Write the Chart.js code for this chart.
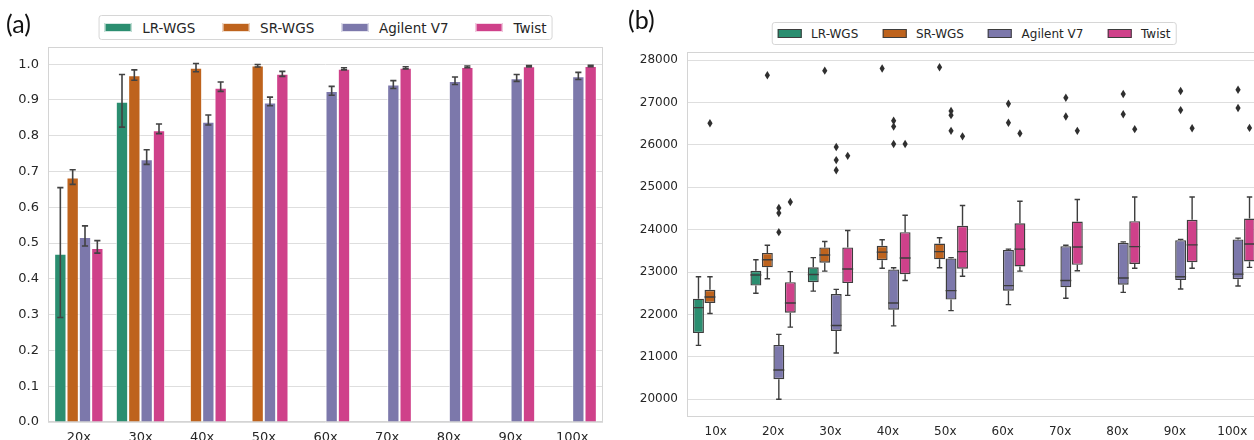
<!DOCTYPE html>
<html>
<head>
<meta charset="utf-8">
<script src="https://cdn.jsdelivr.net/npm/chart.js@4/dist/chart.umd.min.js"></script>
<style>
  html, body { margin: 0; padding: 0; width: 1254px; height: 440px; overflow: hidden; background: #fff; }
  .panel { position: absolute; top: 0; }
  .tag { position: absolute; font-family: Lato, "Open Sans", sans-serif; font-size: 25px; line-height: 1; color: #111; }
  .legend { position: absolute; transform: translateX(-50%); display: flex; align-items: center; box-sizing: border-box;
            border: 1px solid #d6d6d6; border-radius: 3px; background: #fff; font-family: "DejaVu Sans", sans-serif; color: #262626; white-space: nowrap; }
  .legend .item { display: flex; align-items: center; }
  .legend .sw { display: inline-block; box-sizing: border-box; }
</style>
</head>
<body>
<div class="panel" style="left:0;width:620px;height:450px;"><canvas id="chartA" width="620" height="450"></canvas></div>
<div class="panel" style="left:620px;width:660px;height:450px;"><canvas id="chartB" width="660" height="450"></canvas></div>
<div class="tag" style="left:6px;top:11px;">(a)</div>
<div class="tag" style="left:628px;top:7px;">(b)</div>
<div class="legend" id="legendA"></div>
<div class="legend" id="legendB"></div>
<script>
// ---- shared ----
const SERIES = ['LR-WGS', 'SR-WGS', 'Agilent V7', 'Twist'];
const COLORS = ['#2b8e70', '#be631d', '#7c78ab', '#cf418a'];

// ---- panel (a): mean fraction with confidence intervals ----
const CAT_A = ['20x', '30x', '40x', '50x', '60x', '70x', '80x', '90x', '100x'];
const Y_TICKS_A = [0.0, 0.1, 0.2, 0.3, 0.4, 0.5, 0.6, 0.7, 0.8, 0.9, 1.0];

const lrMean = [0.470, 0.895, null, null, null, null, null, null, null];
const lrLow  = [0.292, 0.824, null, null, null, null, null, null, null];
const lrHigh = [0.655, 0.971, null, null, null, null, null, null, null];

const srMean = [0.683, 0.969, 0.990, 0.996, null, null, null, null, null];
const srLow  = [0.664, 0.955, 0.979, 0.992, null, null, null, null, null];
const srHigh = [0.705, 0.984, 1.002, 0.999, null, null, null, null, null];

const agMean = [0.517, 0.734, 0.839, 0.893, 0.925, 0.943, 0.953, 0.961, 0.966];
const agLow  = [0.492, 0.720, 0.830, 0.884, 0.913, 0.932, 0.943, 0.952, 0.957];
const agHigh = [0.548, 0.761, 0.858, 0.908, 0.938, 0.954, 0.964, 0.971, 0.977];

const twMean = [0.486, 0.815, 0.934, 0.973, 0.987, 0.990, 0.992, 0.994, 0.995];
const twLow  = [0.472, 0.806, 0.924, 0.966, 0.984, 0.987, 0.990, 0.992, 0.993];
const twHigh = [0.507, 0.833, 0.950, 0.980, 0.990, 0.993, 0.995, 0.996, 0.997];

// ---- panel (b): distribution per depth ----
const CAT_B = ['10x', '20x', '30x', '40x', '50x', '60x', '70x', '80x', '90x', '100x'];
const Y_TICKS_B = [20000, 21000, 22000, 23000, 24000, 25000, 26000, 27000, 28000];

// [lower whisker, Q1, median, Q3, upper whisker]
const lrBox = [
  [21270, 21560, 22160, 22370, 22890], [22500, 22680, 22930, 23030, 23290], [22550, 22760, 22940, 23110, 23340],
  null, null, null, null, null, null, null];
const srBox = [
  [22020, 22270, 22410, 22580, 22890], [22840, 23110, 23290, 23450, 23630], [23020, 23220, 23400, 23580, 23720],
  [23090, 23280, 23470, 23620, 23760], [23100, 23300, 23480, 23670, 23810], null, null, null, null, null];
const agBox = [
  null,
  [20000, 20470, 20690, 21280, 21530], [21090, 21610, 21740, 22480, 22590], [21730, 22110, 22270, 23060, 23100],
  [22090, 22350, 22560, 23320, 23340], [22230, 22560, 22680, 23520, 23540], [22380, 22640, 22800, 23610, 23630],
  [22520, 22700, 22860, 23690, 23710], [22600, 22810, 22890, 23750, 23770], [22670, 22830, 22950, 23770, 23800]];
const twBox = [
  null,
  [21700, 22040, 22270, 22760, 23010], [22450, 22740, 23070, 23580, 23980], [22800, 22950, 23330, 23940, 24340],
  [22900, 23080, 23480, 24090, 24570], [23020, 23130, 23540, 24150, 24670], [23030, 23170, 23590, 24190, 24710],
  [23090, 23190, 23600, 24200, 24770], [23090, 23230, 23640, 24230, 24770], [23110, 23250, 23660, 24260, 24770]];

const lrOut = [[], [], [], [], [], [], [], [], [], []];
const srOut = [[26510], [27640], [27750], [27800], [27830], [], [], [], [], []];
const agOut = [[], [24510, 24390, 23940], [25950, 25640, 25400], [26570, 26430, 26020], [26800, 26700, 26330],
               [26970, 26520], [27110, 26670], [27200, 26720], [27270, 26820], [27300, 26870]];
const twOut = [[], [24650], [25740], [26020], [26200], [26270], [26330], [26370], [26390], [26400]];

// ---- legends ----
function buildLegend(id, center, top, height, fs, edge) {
  const el = document.getElementById(id);
  el.style.left = center + 'px';
  el.style.top = top + 'px';
  el.style.height = height + 'px';
  el.style.fontSize = fs + 'px';
  el.style.padding = '0 ' + (0.4 * fs) + 'px';
  SERIES.forEach((name, i) => {
    const it = document.createElement('div');
    it.className = 'item';
    if (i > 0) it.style.marginLeft = (2 * fs) + 'px';
    const sw = document.createElement('span');
    sw.className = 'sw';
    sw.style.width = (2 * fs) + 'px';
    sw.style.height = (0.7 * fs) + 'px';
    sw.style.background = COLORS[i];
    sw.style.border = edge;
    sw.style.marginRight = (0.8 * fs) + 'px';
    const tx = document.createElement('span');
    tx.textContent = name;
    it.appendChild(sw); it.appendChild(tx);
    el.appendChild(it);
  });
}
buildLegend('legendA', 325.5, 15, 25, 13.5, '1px solid rgba(255,255,255,0.8)');
buildLegend('legendB', 974, 22, 23, 12, '1px solid #3d3d3d');

// ---- common helpers ----
const GRID = '#dedede';
const TICK_COLOR = '#262626';
const frame = {
  id: 'frame',
  beforeDatasetsDraw(chart) {
    const a = chart.chartArea, c = chart.ctx;
    c.save();
    c.strokeStyle = '#d4d4d4';
    c.lineWidth = 1;
    c.strokeRect(Math.round(a.left) + 0.5, Math.round(a.top) + 0.5, Math.round(a.right - a.left) - 1, Math.round(a.bottom - a.top) - 1);
    c.restore();
  }
};

// ---- chart (a) ----
const aMeans = [lrMean, srMean, agMean, twMean];
const aLows = [lrLow, srLow, agLow, twLow];
const aHighs = [lrHigh, srHigh, agHigh, twHigh];

const errorBars = {
  id: 'errorBars',
  afterDatasetsDraw(chart) {
    const c = chart.ctx, ys = chart.scales.y;
    c.save();
    c.strokeStyle = '#424242';
    c.lineWidth = 1.6;
    aMeans.forEach((m, di) => {
      const meta = chart.getDatasetMeta(di);
      m.forEach((v, j) => {
        if (v === null) return;
        const el = meta.data[j];
        const x = el.x, hw = el.width * 0.25;
        const y1 = ys.getPixelForValue(aLows[di][j]);
        const y2 = ys.getPixelForValue(aHighs[di][j]);
        c.beginPath();
        c.moveTo(x, y1); c.lineTo(x, y2);
        c.moveTo(x - hw, y1); c.lineTo(x + hw, y1);
        c.moveTo(x - hw, y2); c.lineTo(x + hw, y2);
        c.stroke();
      });
    });
    c.restore();
  }
};

new Chart(document.getElementById('chartA'), {
  type: 'bar',
  data: {
    labels: CAT_A,
    datasets: SERIES.map((s, i) => ({
      label: s,
      data: aMeans[i],
      backgroundColor: COLORS[i],
      borderColor: 'rgba(255,255,255,0.75)',
      borderWidth: 1,
      categoryPercentage: 0.8,
      barPercentage: 1.0
    }))
  },
  options: {
    responsive: false,
    animation: false,
    events: [],
    layout: { padding: { left: 0, right: 17, top: 47, bottom: 0 } },
    plugins: { legend: { display: false }, tooltip: { enabled: false } },
    scales: {
      x: {
        grid: { display: false, drawTicks: false },
        border: { display: false },
        ticks: { color: TICK_COLOR, font: { family: 'DejaVu Sans', size: 13 }, padding: 8, maxRotation: 0 },
        afterFit(s) { s.height = 28; }
      },
      y: {
        min: 0, max: 1.048,
        grid: { color: GRID, drawTicks: false },
        border: { display: false },
        ticks: {
          color: TICK_COLOR, font: { family: 'DejaVu Sans', size: 13 }, padding: 9,
          callback: v => Number(v).toFixed(1)
        },
        afterBuildTicks(s) { s.ticks = Y_TICKS_A.map(v => ({ value: v })); },
        afterFit(s) { s.width = 48; }
      }
    }
  },
  plugins: [frame, errorBars]
});

// ---- chart (b) ----
const bBoxes = [lrBox, srBox, agBox, twBox];
const bOut = [lrOut, srOut, agOut, twOut];
const LINE = '#3d3d3d';

// whiskers, caps, medians and outlier diamonds, placed on each box's own bar element
const boxParts = {
  id: 'boxParts',
  afterDatasetsDraw(chart) {
    const c = chart.ctx, ys = chart.scales.y;
    c.save();
    c.strokeStyle = LINE;
    c.lineWidth = 1.4;
    bBoxes.forEach((series, di) => {
      const meta = chart.getDatasetMeta(di);
      series.forEach((b, j) => {
        if (!b) return;
        const el = meta.data[j];
        const x = el.x, hw = el.width / 2, cw = el.width * 0.25;
        const pLo = ys.getPixelForValue(b[0]);
        const pQ1 = ys.getPixelForValue(b[1]);
        const pMed = ys.getPixelForValue(b[2]);
        const pQ3 = ys.getPixelForValue(b[3]);
        const pHi = ys.getPixelForValue(b[4]);
        c.beginPath();
        c.moveTo(x, pQ1); c.lineTo(x, pLo);
        c.moveTo(x, pQ3); c.lineTo(x, pHi);
        c.moveTo(x - cw, pLo); c.lineTo(x + cw, pLo);
        c.moveTo(x - cw, pHi); c.lineTo(x + cw, pHi);
        c.moveTo(x - hw, pMed); c.lineTo(x + hw, pMed);
        c.stroke();
        // outliers
        c.fillStyle = '#2f2f2f';
        bOut[di][j].forEach(v => {
          const py = ys.getPixelForValue(v);
          c.beginPath();
          c.moveTo(x, py - 4.2); c.lineTo(x + 2.6, py); c.lineTo(x, py + 4.2); c.lineTo(x - 2.6, py);
          c.closePath();
          c.fill();
        });
      });
    });
    c.restore();
  }
};

new Chart(document.getElementById('chartB'), {
  type: 'bar',
  data: {
    labels: CAT_B,
    datasets: SERIES.map((s, i) => ({
      label: s,
      data: bBoxes[i].map(b => (b ? [b[1], b[3]] : null)),
      backgroundColor: COLORS[i],
      borderColor: LINE,
      borderWidth: 1.4,
      borderSkipped: false,
      categoryPercentage: 0.8,
      barPercentage: 0.95
    }))
  },
  options: {
    responsive: false,
    animation: false,
    events: [],
    layout: { padding: { left: 0, right: 19, top: 52, bottom: 0 } },
    plugins: { legend: { display: false }, tooltip: { enabled: false } },
    scales: {
      x: {
        grid: { display: false, drawTicks: false },
        border: { display: false },
        ticks: { color: TICK_COLOR, font: { family: 'DejaVu Sans', size: 12 }, padding: 8, maxRotation: 0 },
        afterFit(s) { s.height = 33; }
      },
      y: {
        min: 19580, max: 28190,
        grid: { color: GRID, drawTicks: false },
        border: { display: false },
        ticks: {
          color: TICK_COLOR, font: { family: 'DejaVu Sans', size: 12 }, padding: 9,
          callback: v => String(v)
        },
        afterBuildTicks(s) { s.ticks = Y_TICKS_B.map(v => ({ value: v })); },
        afterFit(s) { s.width = 67; }
      }
    }
  },
  plugins: [frame, boxParts]
});
</script>
</body>
</html>
